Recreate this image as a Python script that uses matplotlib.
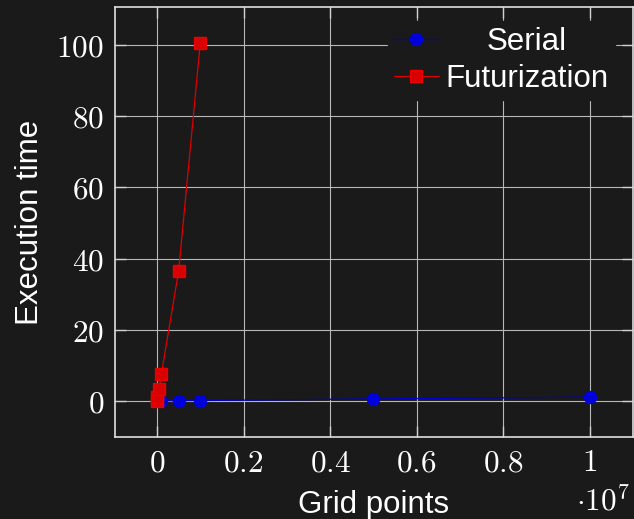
import matplotlib
matplotlib.use("Agg")
import matplotlib.pyplot as plt
from matplotlib.ticker import FuncFormatter

# -----------------------------------------
# Data
# -----------------------------------------

serial_points = [1e4, 1e5, 5e5, 1e6, 5e6, 1e7]
serial_time = [0.02, 0.05, 0.1, 0.15, 0.6, 1.1]

futur_points = [1e3, 1e4, 5e4, 1e5, 5e5, 1e6]
futur_time = [0.1, 1.0, 3.5, 7.5, 36.5, 100.5]

x_ticks = [0, 2e6, 4e6, 6e6, 8e6, 1e7]
y_ticks = [0, 20, 40, 60, 80, 100]

BG = "#1a1a1a"
FG = "#ffffff"
SANS = ["Liberation Sans", "DejaVu Sans"]
FS = 22.5

plt.rcParams["mathtext.fontset"] = "cm"

fig = plt.figure(figsize=(6.34, 5.19), dpi=100, facecolor=BG)
ax = fig.add_axes([115 / 634, 1 - 437 / 519, 518 / 634, 430 / 519])
ax.set_facecolor(BG)

ax.plot(
    serial_points, serial_time,
    color="#0000cc", linewidth=0.9,
    marker="o", markersize=8.6,
    markerfacecolor="#0000dd", markeredgecolor="#0000dd",
    label="Serial", zorder=3,
)

ax.plot(
    futur_points, futur_time,
    color="#dd0000", linewidth=0.9,
    marker="s", markersize=8.6,
    markerfacecolor="#d80000", markeredgecolor="#ee0000",
    label="Futurization", zorder=3,
)

ax.set_xlim(-0.097e7, 1.1e7)
ax.set_ylim(-10.1, 110.7)

ax.set_xticks(x_ticks)
ax.set_yticks(y_ticks)
ax.xaxis.set_major_formatter(
    FuncFormatter(lambda v, p: "$%s$" % ("%g" % (v / 1e7)))
)
ax.yaxis.set_major_formatter(FuncFormatter(lambda v, p: "$%g$" % v))

ax.tick_params(
    direction="in", length=8, width=1,
    color="#d0d0d0", labelcolor=FG, labelsize=FS,
    top=True, right=True, pad=8,
)
ax.grid(True, color="#b8b8b8", linewidth=0.8, zorder=0)
ax.set_axisbelow(True)

for s in ax.spines.values():
    s.set_color("#e0e0e0")
    s.set_linewidth(1.2)

ax.set_xlabel("Grid points", color=FG, fontsize=FS, family=SANS, labelpad=9)
ax.set_ylabel("Execution time", color=FG, fontsize=FS, family=SANS, labelpad=8)

fig.text(
    630 / 634, 1 - 502 / 519, r"$\cdot 10^{7}$",
    color=FG, fontsize=FS, ha="right", va="center",
)

leg = ax.legend(
    loc="upper right",
    bbox_to_anchor=(615 / 634, 1 - 21 / 519),
    bbox_transform=fig.transFigure,
    prop={"family": SANS, "size": FS},
    frameon=True, facecolor=BG, edgecolor=BG, framealpha=1,
    fancybox=False, borderpad=0.2, borderaxespad=0,
    handlelength=1.43, handletextpad=0.22, labelspacing=0.22,
)
for t in leg.get_texts():
    t.set_color(FG)

# center the shorter label like pgfplots does
fig.canvas.draw()
r = fig.canvas.get_renderer()
widths = [t.get_window_extent(r).width for t in leg.get_texts()]
wmax = max(widths)
for t, w in zip(leg.get_texts(), widths):
    t.set_x((wmax - w) / 2)

fig.savefig("out.png", dpi=100, facecolor=BG)
